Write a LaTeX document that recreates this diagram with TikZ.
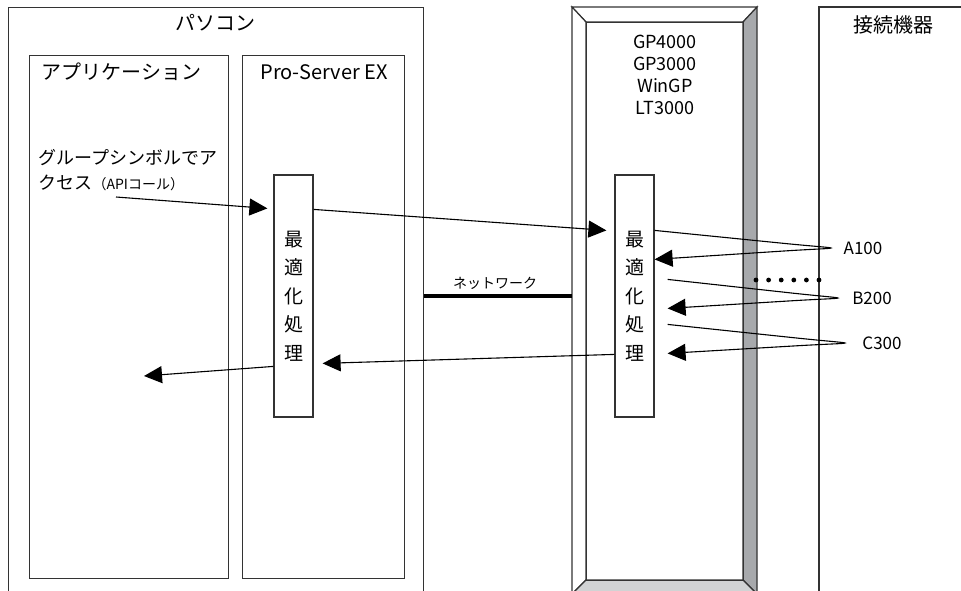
\documentclass[tikz,border=0pt]{standalone}
\usepackage{fontspec}
\setmainfont{Noto Sans CJK JP}
\usetikzlibrary{arrows.meta,calc,positioning}

\definecolor{bevdark}{HTML}{A7A9AC}
\definecolor{bevlight}{HTML}{D1D3D4}

\tikzset{
  frame/.style={draw=black!80, line width=1.2pt},
  panel/.style={frame, anchor=north west, inner sep=0pt},
  title/.style={font=\fontsize{20}{24}\selectfont},
  label/.style={font=\fontsize{17}{20}\selectfont},
  procbox/.style={frame, fill=white, minimum width=39pt, minimum height=242pt,
    inner sep=0pt, align=center, font=\fontsize{19}{28.5}\selectfont},
  msg/.style={line width=1.1pt, -{Triangle[length=18pt,width=17pt]}},
}

% hairpin from start (#1) round tip (#2) back to end (#3)
\newcommand{\loopback}[3]{%
  \draw[msg] (#1) -- ($(#1)!0.72!(#2)$)
    .. controls ($(#1)!1.1!(#2)$) and ($(#3)!1.1!(#2)$) ..
    ($(#3)!0.72!(#2)$) -- (#3);}

\begin{document}
\begin{tikzpicture}[x=1pt,y=-1pt]
\useasboundingbox (0,0) rectangle (961,590);
\clip (0,0) rectangle (961,590);

% PC side
\node[panel, minimum width=415pt, minimum height=620pt] (pc) at (8,7) {};
\node[title] (pctitle) at (215,23) {パソコン};
\node[panel, minimum width=199pt, minimum height=523pt] (app) at (29,55) {};
\node[title, anchor=west] (apptitle) at (38,72) {アプリケーション};
\node[panel, minimum width=162pt, minimum height=523pt] (pse) at (242,55) {};
\node[title] (psetitle) at (324,72) {Pro-Server EX};

% GP with bevel frame
\coordinate (gpo) at (572,7);
\filldraw[frame, fill=white] (572,7) -- (757,7) -- (743,22) -- (586,22) -- cycle; % top
\filldraw[frame, fill=white] (572,7) -- (586,22) -- (586,580) -- (572,594) -- cycle; % left
\filldraw[frame, fill=bevdark] (757,7) -- (757,594) -- (743,580) -- (743,22) -- cycle; % right
\filldraw[frame, fill=bevlight] (572,594) -- (757,594) -- (743,580) -- (586,580) -- cycle; % bottom
\node[panel, minimum width=157pt, minimum height=558pt] (gp) at (586,22) {};
\node[align=center, font=\fontsize{18}{22}\selectfont] (gpname) at (665,75)
  {GP4000\\GP3000\\WinGP\\LT3000};

% devices
\draw[frame] (975,7) -- (819,7) -- (819,600);
\node[title] (devtitle) at (893,25) {接続機器};

% optimisation boxes
\node[procbox] (procL) at (293.5,296) {最\\適\\化\\処\\理};
\node[procbox] (procR) at (634.5,296) {最\\適\\化\\処\\理};

% network
\draw[line width=4.5pt] ($(pc.north east)+(0,289)$) -- ($(gpo)+(0,289)$);
\node[font=\fontsize{14}{16}\selectfont] (netlabel) at (495,283) {ネットワーク};

% API call
\node[anchor=west, align=left, font=\fontsize{18}{25}\selectfont] (calltext) at (35,170)
  {グループシンボルでア\\クセス{\fontsize{14}{14}\selectfont （APIコール）}};
\coordinate (callsrc) at (116,197);
\draw[msg] (callsrc) -- ($(procL.north west)+(-6,34)$);
\draw[msg] ($(procL.north east)+(0,35)$) -- ($(procR.north west)+(-8,56)$);
\draw[msg] ($(procR.north west)+(0,180)$) -- ($(procL.north east)+(9,189)$);
\coordinate (retdst) at (144,376);
\draw[msg] ($(procL.north west)+(0,192)$) -- (retdst);

% device reads
\coordinate (tipA) at (830,248);
\coordinate (tipB) at (837,298);
\coordinate (tipC) at (844,343);
\loopback{$(procR.north east)+(0,56)$}{tipA}{$(procR.north east)+(0,85)$}
\loopback{$(procR.north east)+(13,105)$}{tipB}{$(procR.north east)+(13,134)$}
\loopback{$(procR.north east)+(13,150)$}{tipC}{$(procR.north east)+(13,179)$}
\node[label] (devA) at (863,248) {A100};
\node[label] (devB) at (872,298) {B200};
\node[label] (devC) at (882,343) {C300};

% more devices
\foreach \i in {0,...,5}
  \fill (756+12.6*\i,280) circle[radius=2.4pt];
\end{tikzpicture}
\end{document}
